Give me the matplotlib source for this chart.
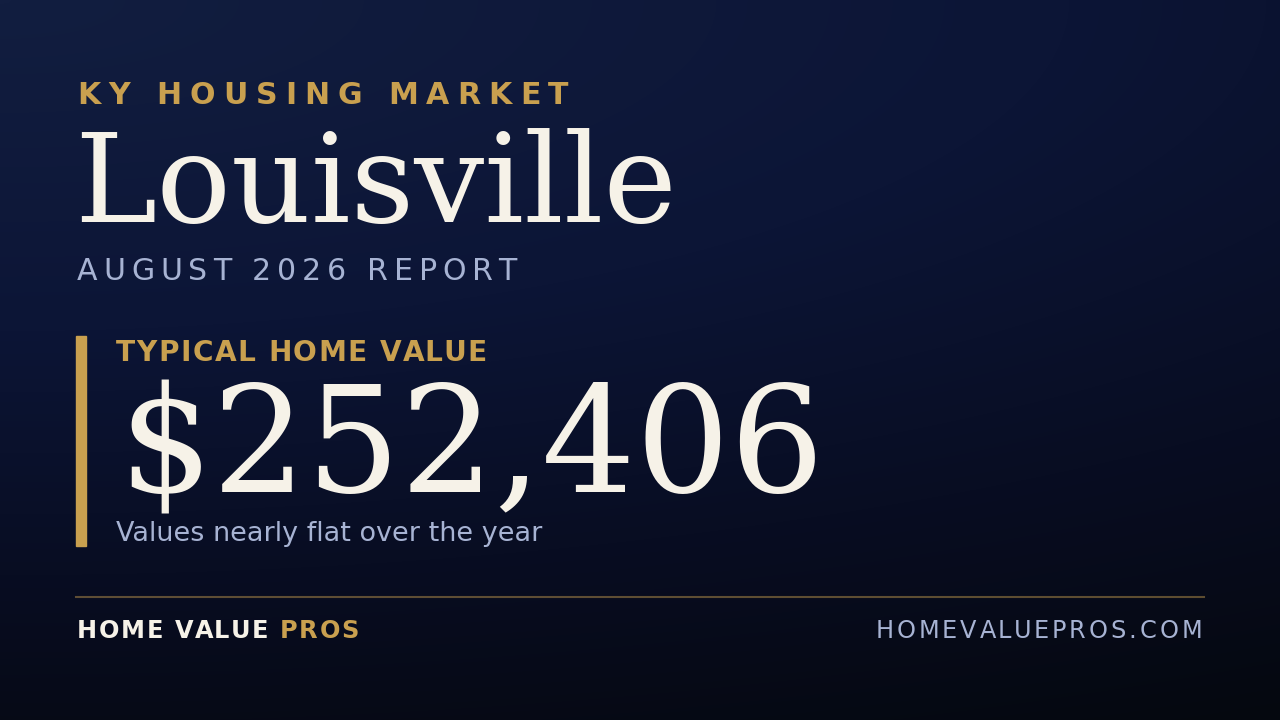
import numpy as np
import matplotlib.pyplot as plt
from matplotlib.colors import LinearSegmentedColormap
from matplotlib.font_manager import FontProperties
from matplotlib.patches import Rectangle

# card content
market_label = 'KY HOUSING MARKET'
city = 'Louisville'
report_label = 'AUGUST 2026 REPORT'
metric_label = 'TYPICAL HOME VALUE'
home_value = 252406
trend_note = 'Values nearly flat over the year'
brand_parts = ['HOME VALUE ', 'PROS']
site = 'HOMEVALUEPROS.COM'

GOLD = '#c9a04f'
CREAM = '#f6f2e8'
MUTED = '#a7b3d3'

fig = plt.figure(figsize=(12.8, 7.2), dpi=100)
ax = fig.add_axes([0, 0, 1, 1])
ax.set_xlim(0, 1280)
ax.set_ylim(720, 0)
ax.axis('off')

# background, lighter navy at the top fading to near black at the bottom right
yy, xx = np.mgrid[0:720, 0:1280]
d = np.hypot(0.55 * xx / 1280, yy / 720) / np.hypot(0.55, 1)
bg = LinearSegmentedColormap.from_list(
    'bg', [(0, '#121e40'), (0.4, '#0c1536'), (0.7, '#080d22'), (1, '#05080f')])
ax.imshow(d, cmap=bg, vmin=0, vmax=1, extent=(0, 1280, 720, 0),
          aspect='auto', zorder=0)

renderer = fig.canvas.get_renderer()


def px(p):
    # pixel size -> points at dpi 100
    return p * 0.72


def spaced(x, y, s, size, spacing, color, weight='normal', ha='left'):
    fp = FontProperties(family='DejaVu Sans', weight=weight, size=px(size))
    wH = renderer.get_text_width_height_descent('H', fp, ismath=False)[0]

    def w(t):
        return renderer.get_text_width_height_descent(t + 'H', fp, ismath=False)[0] - wH

    total = w(s) + spacing * (len(s) - 1)
    if ha == 'right':
        x = x - total
    for i, c in enumerate(s):
        ax.text(x + w(s[:i]) + spacing * i, y, c, fontproperties=fp,
                color=color, va='baseline', ha='left', zorder=3)
    return x + total + spacing


spaced(77, 104, market_label, 30, 8, GOLD, weight='bold')
ax.text(74, 222, city, family='DejaVu Serif', fontsize=px(124), color=CREAM,
        va='baseline', ha='left', zorder=3)
spaced(77, 280, report_label, 30, 5.8, MUTED)

ax.add_patch(Rectangle((76, 336), 10, 210, color=GOLD, zorder=2))
spaced(116, 361, metric_label, 28, 1.5, GOLD, weight='bold')
ax.text(118, 492, '${:,}'.format(home_value), family='DejaVu Serif',
        fontsize=px(148), color=CREAM, va='baseline', ha='left', zorder=3)
ax.text(116, 541, trend_note, family='DejaVu Sans', fontsize=px(27),
        color=MUTED, va='baseline', ha='left', zorder=3)

ax.plot([76, 1204], [597, 597], color=GOLD, alpha=0.45, lw=1.5, zorder=2)

xe = spaced(77, 638, brand_parts[0], 24, 1.7, CREAM, weight='bold')
spaced(xe, 638, brand_parts[1], 24, 1.7, GOLD, weight='bold')
spaced(1202, 638, site, 24, 3.0, MUTED, ha='right')

fig.savefig('out.png', dpi=100)
